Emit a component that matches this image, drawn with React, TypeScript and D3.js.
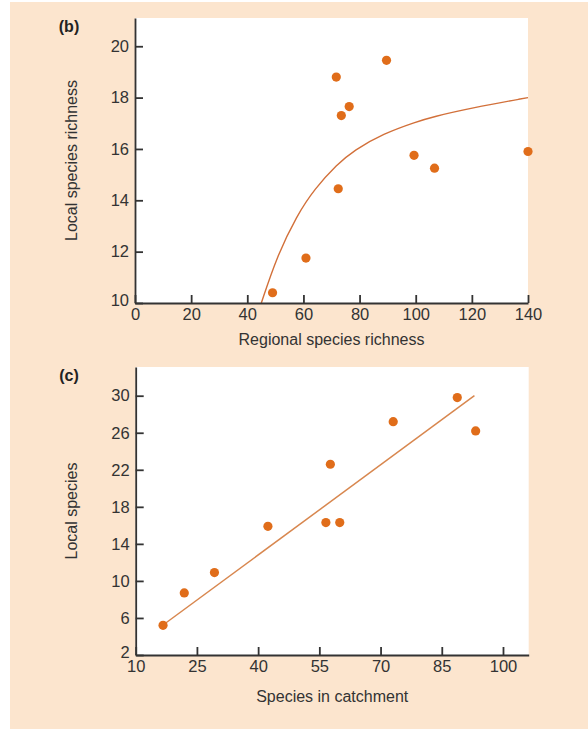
import React, { useEffect, useRef } from 'react';
import * as d3 from 'd3';

// Panel (b): regional vs local species richness
const regionalRichness = [49, 60.9, 71.7, 72.4, 73.5, 76.3, 89.6, 99.4, 106.7, 140];
const localRichness = [10.4, 11.75, 18.8, 14.45, 17.3, 17.65, 19.45, 15.75, 15.25, 15.9];
// saturating curve
const curveRegional = [45, 50.5, 57.6, 64, 72, 78, 88.5, 100, 106, 120, 140];
const curveLocal = [10, 11.8, 13.4, 14.45, 15.4, 15.95, 16.6, 17.05, 17.25, 17.6, 18.0];
const ticksB_x = [0, 20, 40, 60, 80, 100, 120, 140];
const ticksB_y = [10, 12, 14, 16, 18, 20];

// Panel (c): species in catchment vs local species
const catchment = [16.7, 21.9, 29.3, 42.4, 56.6, 57.7, 60.0, 73.1, 88.8, 93.3];
const localSpecies = [5.2, 8.7, 10.9, 15.9, 16.3, 22.6, 16.3, 27.2, 29.8, 26.2];
const fitCatchment = [17.2, 93];
const fitLocal = [5.4, 30.0];
const ticksC_x = [10, 25, 40, 55, 70, 85, 100];
const ticksC_y = [2, 6, 10, 14, 18, 22, 26, 30];

const W = 588;
const H = 729;
const BG = '#fce5ce';
const DOT = '#e06d1a';
const AXIS = '#333';
const FONT = '"Liberation Sans", Arial, Helvetica, sans-serif';

type PanelProps = {
  label: string;
  xs: number[];
  ys: number[];
  lineX: number[];
  lineY: number[];
  xDomain: [number, number];
  yDomain: [number, number];
  xRange: [number, number];
  yRange: [number, number];
  xTicks: number[];
  yTicks: number[];
  xTitle: string;
  yTitle: string;
  xTitleY: number;
  smooth: boolean;
  lineColor: string;
  lineWidth: number;
};

const Panel: React.FC<PanelProps> = (p) => {
  const gx = useRef<SVGGElement>(null);
  const gy = useRef<SVGGElement>(null);

  const x = d3.scaleLinear().domain(p.xDomain).range(p.xRange);
  const y = d3.scaleLinear().domain(p.yDomain).range(p.yRange);

  useEffect(() => {
    const ax = d3.axisBottom(x).tickValues(p.xTicks).tickSizeInner(-8).tickSizeOuter(0).tickPadding(5);
    const ay = d3.axisLeft(y).tickValues(p.yTicks).tickSizeInner(-8).tickSizeOuter(0).tickPadding(6);
    for (const [ref, axis] of [[gx, ax], [gy, ay]] as const) {
      const g = d3.select(ref.current!);
      g.selectAll('*').remove();
      g.call(axis as any);
      g.selectAll('path, line').attr('stroke', AXIS).attr('stroke-width', 1.8);
      g.selectAll('text').attr('fill', '#333').style('font-size', '16.5px').style('font-family', FONT);
    }
    // lowest y label sits just above the corner, clear of the first x label
    d3.select(gy.current!).selectAll<SVGTextElement, number>('text')
      .filter(d => d === p.yTicks[0])
      .attr('y', -3);
  });

  const pts = p.lineX.map((v, i) => [v, p.lineY[i]] as [number, number]);
  const line = d3.line<[number, number]>()
    .x(d => x(d[0]))
    .y(d => y(d[1]))
    .curve(p.smooth ? d3.curveBasis : d3.curveLinear);

  const [x0, x1] = p.xRange;
  const [yb, yt] = p.yRange;

  return (
    <g>
      <rect x={x0} y={yt} width={x1 - x0} height={yb - yt} fill="#fff" />
      <path d={line(pts) ?? ''} fill="none" stroke={p.lineColor} strokeWidth={p.lineWidth} />
      {p.xs.map((v, i) => (
        <circle key={i} cx={x(v)} cy={y(p.ys[i])} r={4.6} fill={DOT} />
      ))}
      <g ref={gx} transform={`translate(0,${yb})`} />
      <g ref={gy} transform={`translate(${x0},0)`} />
      <text x={69} y={yt + 10} textAnchor="middle" dominantBaseline="middle"
        fontFamily={FONT} fontWeight="bold" fontSize={16} fill="#222">{p.label}</text>
      <text transform={`translate(73,${(yb + yt) / 2}) rotate(-90)`} textAnchor="middle"
        dominantBaseline="middle" fontFamily={FONT} fontSize={16} fill="#333">{p.yTitle}</text>
      <text x={(x0 + x1) / 2} y={p.xTitleY} textAnchor="middle" dominantBaseline="middle"
        fontFamily={FONT} fontSize={16} fill="#333">{p.xTitle}</text>
    </g>
  );
};

export default function App() {
  return (
    <div style={{ position: 'absolute', left: 0, top: 0 }}>
      <svg width={W} height={H} viewBox={`0 0 ${W} ${H}`} style={{ display: 'block' }}>
        <rect x={0} y={0} width={W} height={H} fill="#fff" />
        <rect x={10} y={2} width={W - 10} height={H - 2} fill={BG} />
        <Panel
          label="(b)"
          xs={regionalRichness}
          ys={localRichness}
          lineX={curveRegional}
          lineY={curveLocal}
          xDomain={[0, 140]}
          yDomain={[10, 21.1]}
          xRange={[135, 528]}
          yRange={[303, 18]}
          xTicks={ticksB_x}
          yTicks={ticksB_y}
          xTitle="Regional species richness"
          yTitle="Local species richness"
          xTitleY={341}
          smooth={true}
          lineColor="#d2703a"
          lineWidth={1.4}
        />
        <Panel
          label="(c)"
          xs={catchment}
          ys={localSpecies}
          lineX={fitCatchment}
          lineY={fitLocal}
          xDomain={[10, 106.3]}
          yDomain={[2, 33.1]}
          xRange={[135.7, 528.7]}
          yRange={[655, 367]}
          xTicks={ticksC_x}
          yTicks={ticksC_y}
          xTitle="Species in catchment"
          yTitle="Local species"
          xTitleY={698}
          smooth={false}
          lineColor="#d8874f"
          lineWidth={1.5}
        />
      </svg>
    </div>
  );
}
